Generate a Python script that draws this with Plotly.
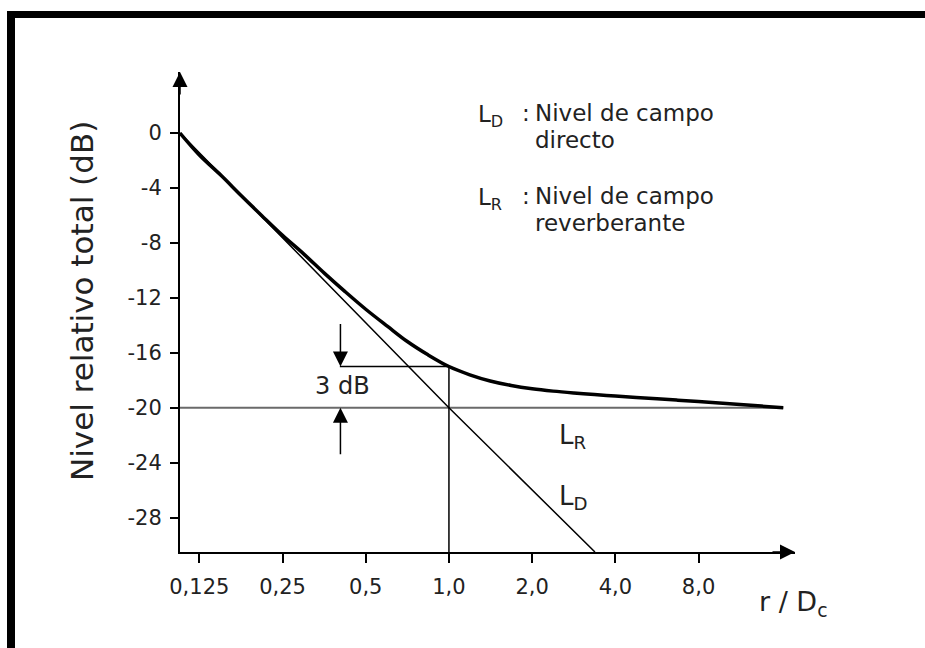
import math
import plotly.graph_objects as go

# ---- data ----
x_tickvals = [0.125, 0.25, 0.5, 1.0, 2.0, 4.0, 8.0]
x_ticktext = ["0,125", "0,25", "0,5", "1,0", "2,0", "4,0", "8,0"]
y_tickvals = [0, -4, -8, -12, -16, -20, -24, -28]
y_ticktext = ["0", "-4", "-8", "-12", "-16", "-20", "-24", "-28"]

# total level curve (thick)
total_r = [0.1064, 0.125, 0.15, 0.177, 0.21, 0.25, 0.3, 0.354, 0.42, 0.5, 0.6, 0.707,
           0.84, 1.0, 1.19, 1.41, 1.68, 2.0, 2.38, 2.83, 3.36, 4.0, 4.76, 5.66, 6.73,
           8.0, 9.5, 11.3, 13.5, 16.2]
total_db = [0.0, -1.6, -3.1, -4.55, -6.0, -7.45, -8.85, -10.2, -11.53, -12.83, -14.08, -15.18,
            -16.15, -17.0, -17.6, -18.05, -18.38, -18.62, -18.79, -18.92, -19.03, -19.15,
            -19.25, -19.35, -19.45, -19.55, -19.65, -19.76, -19.88, -20.0]
# direct field line L_D
direct_r = [0.1064, 1.0, 3.375]
direct_db = [0.0, -20.0, -30.5]
# reverberant field line L_R
rev_r = [0.1064, 16.2]
rev_db = [-20.0, -20.0]
# 3 dB construction lines
helper_h_r = [0.403, 1.0]
helper_h_db = [-17.0, -17.0]
helper_v_r = [1.0, 1.0]
helper_v_db = [-17.0, -30.5]

X_RANGE = [-0.973, 1.252]
Y_RANGE = [-30.5, 4.44]

FONT = "DejaVu Sans"
TXT = "#222222"

fig = go.Figure()
fig.add_trace(go.Scatter(x=rev_r, y=rev_db, mode="lines",
                         line=dict(color="#6a6a6a", width=2), hoverinfo="skip"))
fig.add_trace(go.Scatter(x=direct_r, y=direct_db, mode="lines",
                         line=dict(color="black", width=1.5), hoverinfo="skip"))
fig.add_trace(go.Scatter(x=helper_h_r, y=helper_h_db, mode="lines",
                         line=dict(color="black", width=1.5), hoverinfo="skip"))
fig.add_trace(go.Scatter(x=helper_v_r, y=helper_v_db, mode="lines",
                         line=dict(color="black", width=1.5), hoverinfo="skip"))
fig.add_trace(go.Scatter(x=total_r, y=total_db, mode="lines", line_shape="spline",
                         line=dict(color="black", width=3.5), hoverinfo="skip"))

L, R, T, B = 180, 130, 72, 96
W, H = 925, 648
PW, PH = W - L - R, H - T - B


def px(xp):
    return (xp - L) / PW


def py(yp):
    return (H - B - yp) / PH


annotations = []
arrow_style = dict(showarrow=True, arrowhead=2, arrowsize=2.0, arrowwidth=1.5,
                   arrowcolor="black", text="")
# axis arrowheads
annotations.append(dict(xref="paper", yref="paper", x=1, y=0, ax=-24, ay=0, **arrow_style))
annotations.append(dict(xref="paper", yref="paper", x=0, y=1, ax=0, ay=24, **arrow_style))
# 3 dB arrows
ax3 = math.log10(0.405)
annotations.append(dict(xref="x", yref="y", x=ax3, y=-17.0, ax=0, ay=-44, **arrow_style))
annotations.append(dict(xref="x", yref="y", x=ax3, y=-20.0, ax=0, ay=48, **arrow_style))
annotations.append(dict(xref="paper", yref="paper", x=px(342), y=py(386), text="3 dB",
                        showarrow=False, xanchor="center", yanchor="middle",
                        font=dict(family=FONT, size=24, color=TXT)))
# in-plot labels
annotations.append(dict(xref="paper", yref="paper", x=px(557), y=py(436), text="L<sub>R</sub>",
                        showarrow=False, xanchor="left", yanchor="middle",
                        font=dict(family=FONT, size=26, color=TXT)))
annotations.append(dict(xref="paper", yref="paper", x=px(557), y=py(497), text="L<sub>D</sub>",
                        showarrow=False, xanchor="left", yanchor="middle",
                        font=dict(family=FONT, size=26, color=TXT)))
# legend text block
leg_font = dict(family=FONT, size=23, color=TXT)
annotations.append(dict(xref="paper", yref="paper", x=px(476), y=py(116), text="L<sub>D</sub>",
                        showarrow=False, xanchor="left", yanchor="middle", font=leg_font))
annotations.append(dict(xref="paper", yref="paper", x=px(520), y=py(113), text=":",
                        showarrow=False, xanchor="left", yanchor="middle", font=leg_font))
annotations.append(dict(xref="paper", yref="paper", x=px(533), y=py(113), text="Nivel de campo",
                        showarrow=False, xanchor="left", yanchor="middle", font=leg_font))
annotations.append(dict(xref="paper", yref="paper", x=px(533), y=py(140), text="directo",
                        showarrow=False, xanchor="left", yanchor="middle", font=leg_font))
annotations.append(dict(xref="paper", yref="paper", x=px(476), y=py(199), text="L<sub>R</sub>",
                        showarrow=False, xanchor="left", yanchor="middle", font=leg_font))
annotations.append(dict(xref="paper", yref="paper", x=px(520), y=py(196), text=":",
                        showarrow=False, xanchor="left", yanchor="middle", font=leg_font))
annotations.append(dict(xref="paper", yref="paper", x=px(533), y=py(196), text="Nivel de campo",
                        showarrow=False, xanchor="left", yanchor="middle", font=leg_font))
annotations.append(dict(xref="paper", yref="paper", x=px(533), y=py(223), text="reverberante",
                        showarrow=False, xanchor="left", yanchor="middle", font=leg_font))
# x axis title
annotations.append(dict(xref="paper", yref="paper", x=px(757), y=py(603), text="r / D<sub>c</sub>",
                        showarrow=False, xanchor="left", yanchor="middle",
                        font=dict(family=FONT, size=27, color=TXT)))
# y axis title
annotations.append(dict(xref="paper", yref="paper", x=px(82), y=py(301),
                        text="Nivel relativo total (dB)", textangle=-90,
                        showarrow=False, xanchor="center", yanchor="middle",
                        font=dict(family=FONT, size=31, color=TXT)))

shapes = [
    # black frame: left and top bars
    dict(type="rect", xref="paper", yref="paper", x0=px(7), x1=px(15), y0=py(660), y1=py(11),
         fillcolor="black", line=dict(width=0)),
    dict(type="rect", xref="paper", yref="paper", x0=px(7), x1=px(940), y0=py(18), y1=py(11),
         fillcolor="black", line=dict(width=0)),
]

fig.update_layout(
    width=W, height=H,
    margin=dict(l=L, r=R, t=T, b=B, pad=0),
    paper_bgcolor="white", plot_bgcolor="white",
    showlegend=False,
    hovermode=False,
    annotations=annotations,
    shapes=shapes,
    xaxis=dict(type="log", range=X_RANGE, tickvals=x_tickvals, ticktext=x_ticktext,
               ticks="outside", ticklen=9, tickwidth=1.5, tickcolor="black",
               showline=True, linewidth=2, linecolor="black", showgrid=False, zeroline=False,
               tickfont=dict(family=FONT, size=21, color=TXT), ticklabelstandoff=6,
               fixedrange=True),
    yaxis=dict(range=Y_RANGE, tickvals=y_tickvals, ticktext=y_ticktext,
               ticks="outside", ticklen=8, tickwidth=1.5, tickcolor="black",
               showline=True, linewidth=2, linecolor="black", showgrid=False, zeroline=False,
               tickfont=dict(family=FONT, size=21, color=TXT), ticklabelstandoff=4,
               fixedrange=True),
)

fig.write_html("out.html", config={"displayModeBar": False})
